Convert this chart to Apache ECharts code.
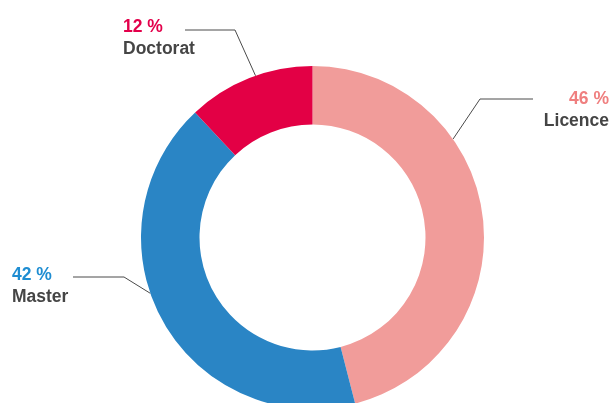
<!DOCTYPE html>
<html>
<head>
<meta charset="utf-8">
<script src="https://cdn.jsdelivr.net/npm/echarts@6/dist/echarts.min.js"></script>
<style>
  html, body { margin: 0; padding: 0; background: #fff; }
  #chart { width: 614px; height: 403px; }
</style>
</head>
<body>
<div id="chart"></div>
<script>
// data
const categories = ['Licence', 'Master', 'Doctorat']
const shares = [46, 42, 12]
const sliceColors = ['#F19C9A', '#2A85C5', '#E30045']
const labelColors = ['#EF7F7F', '#1E8DD2', '#E3004B']

// where each callout sits: angle on the ring (deg clockwise from top), elbow, end, text anchor
const callouts = {
  Licence: { angle: 55, elbow: [480, 99], end: [533, 99], x: 609, y: 110, align: 'right' },
  Master: { angle: 251, elbow: [124, 277], end: [73, 277], x: 12, y: 286, align: 'left' },
  Doctorat: { angle: 340.6, elbow: [235, 30], end: [185, 30], x: 123, y: 38, align: 'left' }
}

const center = [312.5, 237.5]
const outerR = 171.5
const innerR = 113

const chart = echarts.init(document.getElementById('chart'))

const rich = {}
categories.forEach((c, i) => {
  rich['p' + i] = { fontFamily: 'Liberation Sans', fontWeight: 'bold', fontSize: 17.5, lineHeight: 22, color: labelColors[i] }
})
rich.n = { fontFamily: 'Liberation Sans', fontWeight: 'bold', fontSize: 17.5, lineHeight: 22, color: '#454545' }

chart.setOption({
  animation: false,
  series: [{
    type: 'pie',
    center: center,
    radius: [innerR, outerR],
    startAngle: 90,
    clockwise: true,
    itemStyle: { borderWidth: 0 },
    emphasis: { disabled: true },
    label: {
      show: true,
      formatter: p => '{p' + p.dataIndex + '|' + p.value + ' %}\n{n|' + p.name + '}',
      rich: rich
    },
    labelLine: { show: true, lineStyle: { color: '#4a4a4a', width: 1 } },
    labelLayout: params => {
      const name = categories[params.dataIndex]
      const c = callouts[name]
      const a = c.angle * Math.PI / 180
      const start = [center[0] + outerR * Math.sin(a), center[1] - outerR * Math.cos(a)]
      return {
        x: c.x,
        y: c.y,
        align: c.align,
        verticalAlign: 'middle',
        labelLinePoints: [start, c.elbow, c.end]
      }
    },
    data: categories.map((c, i) => ({
      name: c,
      value: shares[i],
      itemStyle: { color: sliceColors[i] }
    }))
  }]
})
</script>
</body>
</html>
